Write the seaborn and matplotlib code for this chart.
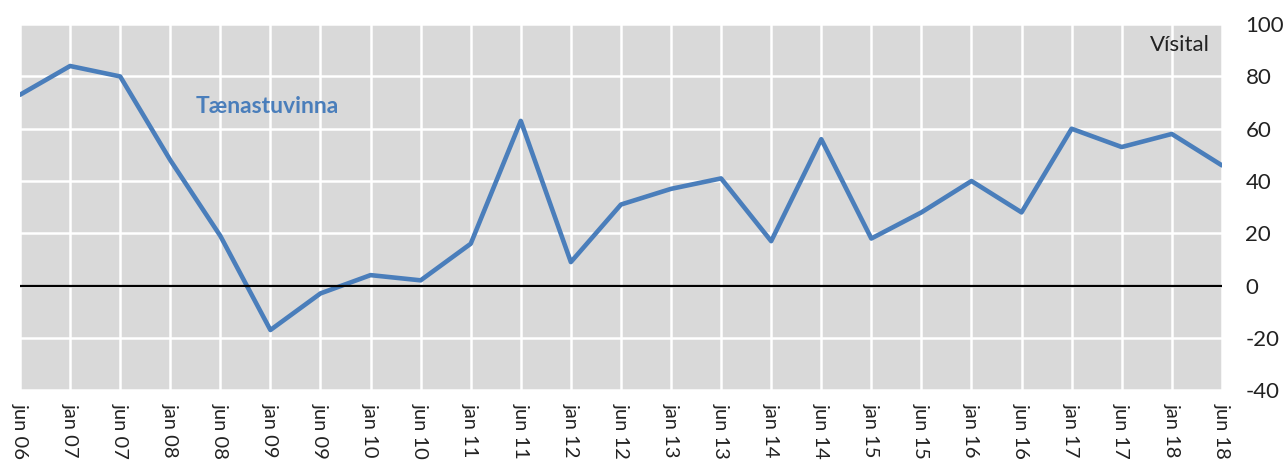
import numpy as np
import pandas as pd
import matplotlib
matplotlib.use("Agg")
import matplotlib.pyplot as plt
import seaborn as sns

# data
periods = ["jun 06", "jan 07", "jun 07", "jan 08", "jun 08", "jan 09", "jun 09",
           "jan 10", "jun 10", "jan 11", "jun 11", "jan 12", "jun 12", "jan 13",
           "jun 13", "jan 14", "jun 14", "jan 15", "jun 15", "jan 16", "jun 16",
           "jan 17", "jun 17", "jan 18", "jun 18"]
taenastuvinna = [73, 84, 80, 48, 19, -17, -3, 4, 2, 16, 63, 9, 31, 37, 41,
                 17, 56, 18, 28, 40, 28, 60, 53, 58, 46]
y_ticks = [-40, -20, 0, 20, 40, 60, 80, 100]

BLUE = "#4a7ebb"
GREY = "#d9d9d9"

sns.set_theme(style="darkgrid", rc={
    "axes.facecolor": GREY,
    "grid.color": "white",
    "grid.linewidth": 1.8,
    "axes.edgecolor": GREY,
})
plt.rcParams["font.family"] = ["Lato", "DejaVu Sans"]

df = pd.DataFrame({"pos": np.arange(len(periods)), "value": taenastuvinna})

fig = plt.figure(figsize=(12.84, 4.65), dpi=100)
ax = fig.add_axes([0.0156, 0.161, 0.936, 0.787])

sns.lineplot(data=df, x="pos", y="value", ax=ax, color=BLUE, linewidth=3.3)
ax.axhline(0, color="black", linewidth=1.6, zorder=3)

ax.set_xlim(0, len(periods) - 1)
ax.set_ylim(-40, 100)
ax.set_xticks(df["pos"])
ax.set_xticklabels(periods, rotation=-90, va="top", ha="center")
ax.set_yticks(y_ticks)
ax.set_yticklabels([str(v) for v in y_ticks])
ax.yaxis.tick_right()
ax.tick_params(axis="y", labelsize=16, pad=17, length=0, colors="#222222")
ax.tick_params(axis="x", labelsize=14.5, pad=9, length=0, colors="#222222")
ax.set_xlabel("")
ax.set_ylabel("")
for s in ax.spines.values():
    s.set_visible(False)

ax.text(3.5, 68.5, "Tænastuvinna", color=BLUE, fontsize=16.5, fontweight="bold",
        ha="left", va="center")
ax.text(0.99, 0.943, "Vísital", transform=ax.transAxes, fontsize=16,
        ha="right", va="center", color="#222222")

fig.savefig("out.png", dpi=100)
